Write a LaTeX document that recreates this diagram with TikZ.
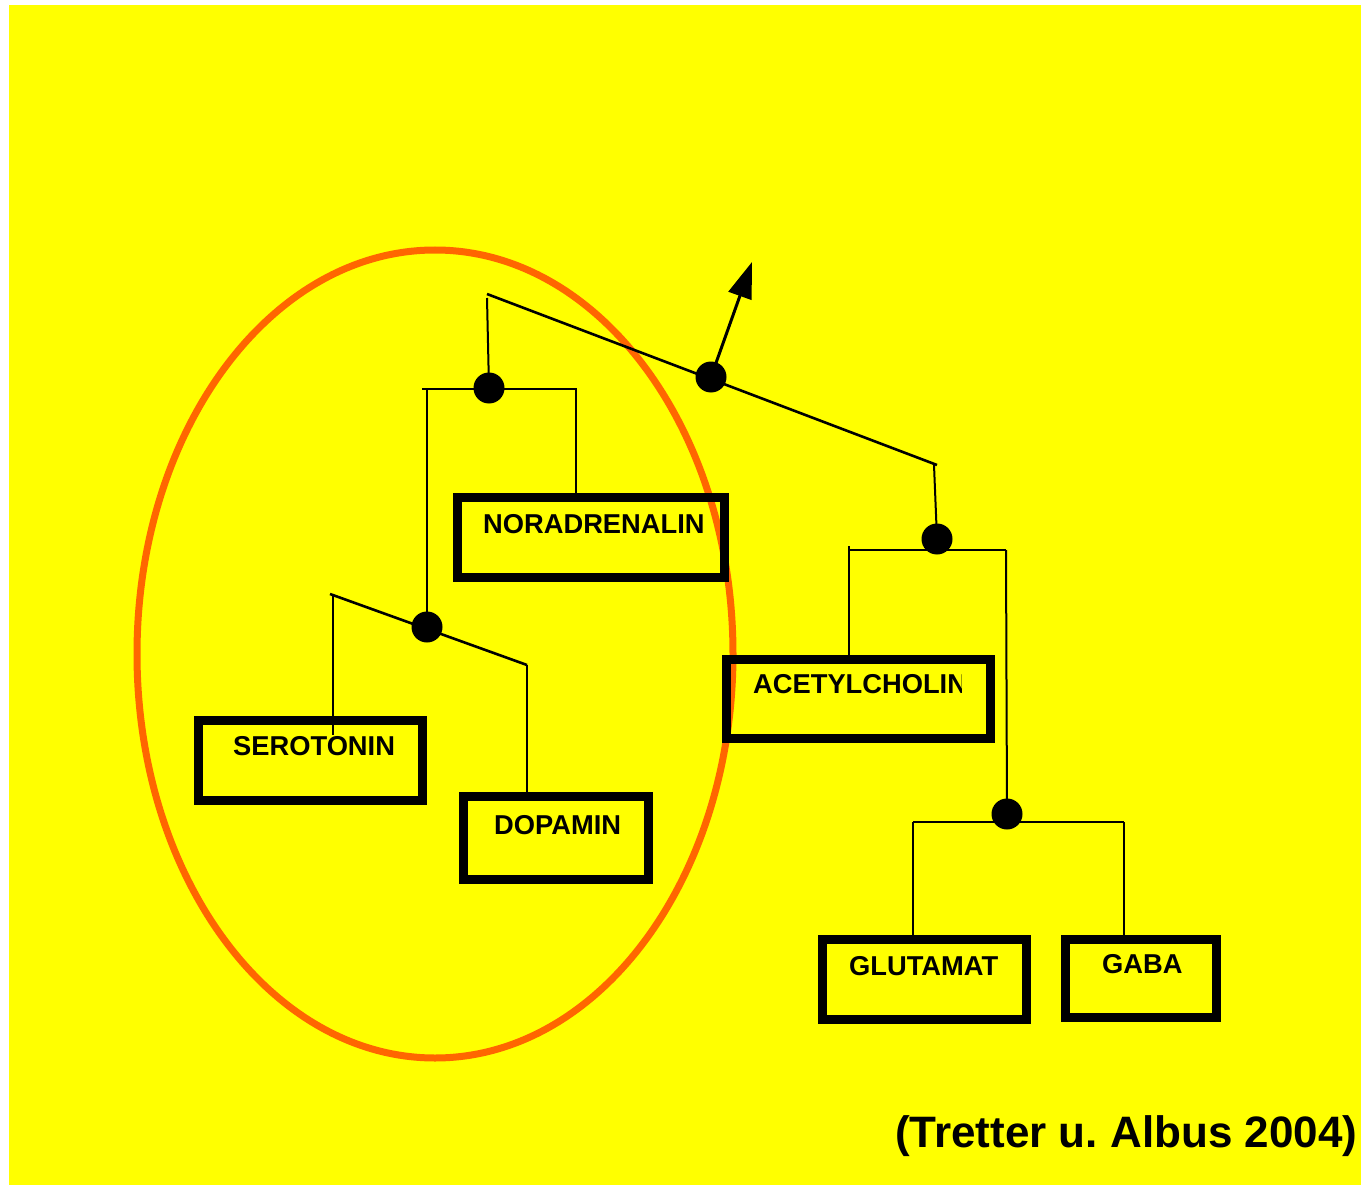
\documentclass[tikz,border=0pt]{standalone}
\usepackage{fontspec}
\setmainfont{Liberation Sans}
\usetikzlibrary{arrows.meta}
\definecolor{bgyellow}{RGB}{255,255,0}
\definecolor{ringorange}{RGB}{255,102,0}
\tikzset{
  boxnode/.style={draw=black, line width=9pt, rectangle, inner sep=0pt, minimum width=#1},
  lbl/.style={anchor=base west, inner sep=0pt, font=\fontsize{27.3}{30}\selectfont\bfseries},
  dotnode/.style={circle, fill=black, inner sep=0pt, minimum size=31pt},
  wire/.style={draw=black, line width=2pt},
  slant/.style={draw=black, line width=2.6pt},
}
\frenchspacing
\begin{document}
\begin{tikzpicture}[x=1pt,y=-1pt]
\useasboundingbox (0,0) rectangle (1361,1185);
\fill[white] (0,0) rectangle (1361,1185);
\fill[bgyellow] (9,5) rectangle (1361,1185);

% ellipse
\draw[ringorange, line width=7pt] (435,654) ellipse [x radius=298, y radius=404];

% boxes
\node[boxnode=267pt, minimum height=80pt] (nor) at (591,537.5) {};
\node[boxnode=224pt, minimum height=80pt] (ser) at (310.5,760.5) {};
\node[boxnode=185pt, minimum height=83pt] (dop) at (556,838) {};
\node[boxnode=264pt, minimum height=79pt] (ace) at (858.5,699) {};
\node[boxnode=204pt, minimum height=80pt] (glu) at (924.5,979.5) {};
\node[boxnode=151pt, minimum height=78pt] (gaba) at (1141,978.5) {};

% labels
\node[lbl] (tnor) at (483,533) {NORADRENALIN};
\node[lbl] (tser) at (233,755) {SEROTONIN};
\node[lbl] (tdop) at (494,834) {DOPAMIN};
\begin{scope}
\clip (740,660) rectangle (961,700);
\node[lbl] (tace) at (753,693) {ACETYLCHOLIN};
\end{scope}
\node[lbl] (tglu) at (849,975) {GLUTAMAT};
\node[lbl] (tgaba) at (1102,973) {GABA};

% junction coordinates
\coordinate (topL) at (487,294);
\coordinate (topR) at (937,465);
\coordinate (sL) at (330,594);
\coordinate (sR) at (527,665);
\coordinate (arrowtip) at (752,262);

% dots
\node[dotnode] (d1) at (489,388) {};
\node[dotnode] (d2) at (711,377) {};
\node[dotnode] (d3) at (937,539) {};
\node[dotnode] (d4) at (427,627) {};
\node[dotnode] (d5) at (1007,814) {};

% top slanted line
\draw[slant] (topL) -- (topR);
\draw[wire] (487,298) -- (d1.center);
\draw[-{Triangle[length=36pt,width=24pt]}, line width=3pt] (d2.center) -- (arrowtip);

% left branch
\coordinate (h1L) at (422,389);
\coordinate (h1R) at (577,389);
\draw[wire] (h1L) -- (h1R);
\draw[wire] (427,389) -- (d4.center);
\draw[wire] (576,389) -- (576,389 |- nor.north);

% serotonin / dopamin branch
\draw[slant] (sL) -- (sR);
\draw[wire] (333,596) -- (333,735);
\draw[wire] (sR) -- (sR |- dop.north);

% right branch
\draw[wire] (934,465) -- (d3.center);
\coordinate (h3L) at (849,550);
\coordinate (h3R) at (1006,550);
\draw[wire] (h3L) -- (h3R);
\draw[wire] (849,546) -- (849,546 |- ace.north);
\draw[wire] (h3R) -- (d5.center);

% glutamat / gaba branch
\coordinate (h5L) at (913,822);
\coordinate (h5R) at (1124,822);
\draw[wire] (h5L) -- (h5R);
\draw[wire] (h5L) -- (h5L |- glu.north);
\draw[wire] (h5R) -- (h5R |- gaba.north);

% citation
\node[anchor=base west, inner sep=0pt, font=\fontsize{44}{48}\selectfont\bfseries] (cite) at (895,1147) {(Tretter u.\ Albus 2004)};
\end{tikzpicture}
\end{document}
